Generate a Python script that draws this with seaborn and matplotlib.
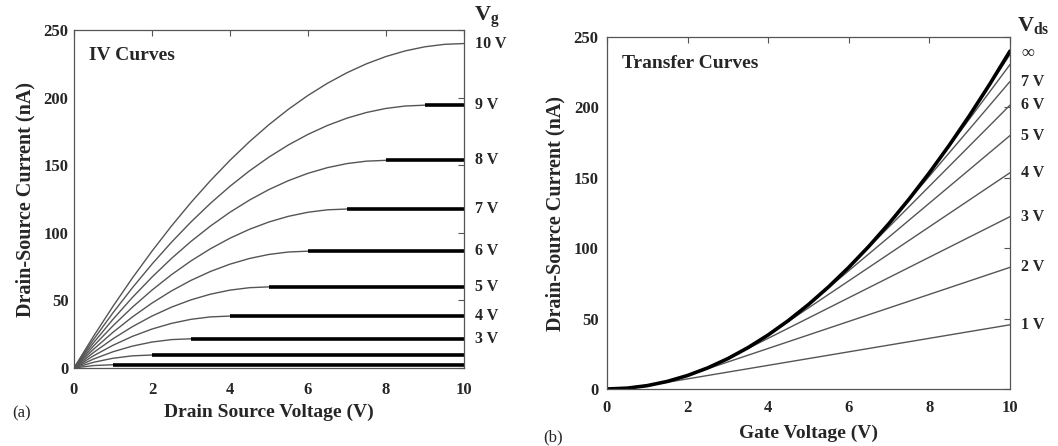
import numpy as np
import pandas as pd
import seaborn as sns
from matplotlib import pyplot as plt

# Drain source voltage grid (V) used for the IV curves
vds_grid = [0, 0.5, 1, 1.5, 2, 2.5, 3, 3.5, 4, 4.5, 5, 5.5, 6, 6.5, 7, 7.5, 8, 8.5, 9, 9.5, 10]

# IV curves (nA), one list per gate voltage, up to saturation (Vds = Vg)
iv_curves = {
    10: [0, 23.4, 45.6, 66.6, 86.4, 105, 122.4, 138.6, 153.6, 167.4, 180, 191.4, 201.6, 210.6, 218.4, 225, 230.4, 234.6, 237.6, 239.4, 240],
    9: [0, 21, 40.8, 59.4, 76.8, 93, 108, 121.8, 134.4, 145.8, 156, 165, 172.8, 179.4, 184.8, 189, 192, 193.8, 194.4],
    8: [0, 18.6, 36, 52.2, 67.2, 81, 93.6, 105, 115.2, 124.2, 132, 138.6, 144, 148.2, 151.2, 153, 153.6],
    7: [0, 16.2, 31.2, 45, 57.6, 69, 79.2, 88.2, 96, 102.6, 108, 112.2, 115.2, 117, 117.6],
    6: [0, 13.8, 26.4, 37.8, 48, 57, 64.8, 71.4, 76.8, 81, 84, 85.8, 86.4],
    5: [0, 11.4, 21.6, 30.6, 38.4, 45, 50.4, 54.6, 57.6, 59.4, 60],
    4: [0, 9, 16.8, 23.4, 28.8, 33, 36, 37.8, 38.4],
    3: [0, 6.6, 12, 16.2, 19.2, 21, 21.6],
    2: [0, 4.2, 7.2, 9, 9.6],
    1: [0, 1.8, 2.4],
}
iv_labelled = [3, 4, 5, 6, 7, 8, 9, 10]

# Transfer curves: saturation (Vds = inf) curve over gate voltage
vg_grid = [0, 0.5, 1, 1.5, 2, 2.5, 3, 3.5, 4, 4.5, 5, 5.5, 6, 6.5, 7, 7.5, 8, 8.5, 9, 9.5, 10]
sat_current = [0, 0.6, 2.4, 5.4, 9.6, 15, 21.6, 29.4, 38.4, 48.6, 60, 72.6, 86.4, 101.4, 117.6,
               135, 153.6, 173.4, 194.4, 216.6, 240]
# current at Vg = 10 V for each finite Vds; linear above Vg = Vds
vds_values = [1, 2, 3, 4, 5, 6, 7, 8, 9]
end_current = [45.6, 86.4, 122.4, 153.6, 180, 201.6, 218.4, 230.4, 237.6]
tr_labelled = [1, 2, 3, 4, 5, 6, 7]

sns.set_theme(style='white')
plt.rcParams['font.family'] = ['Liberation Serif', 'DejaVu Serif']
plt.rcParams['font.weight'] = 'bold'
plt.rcParams['mathtext.fontset'] = 'custom'
plt.rcParams['mathtext.rm'] = 'Liberation Serif'
plt.rcParams['mathtext.bf'] = 'Liberation Serif:bold'

thin = dict(color='#555555', linewidth=1.0)
thick = dict(color='black', linewidth=2.6)

fig = plt.figure(figsize=(10.58, 4.46), dpi=100)
ax1 = fig.add_axes([0.0699, 0.1749, 0.3686, 0.7578])
ax2 = fig.add_axes([0.5737, 0.1278, 0.3809, 0.7892])

# ---- (a) IV curves
rows = []
for vg, cur in iv_curves.items():
    for x, y in zip(vds_grid, cur):
        rows.append((vg, x, y, 'rise'))
    rows.append((vg, vds_grid[len(cur) - 1], cur[-1], 'flat'))
    rows.append((vg, vds_grid[-1], cur[-1], 'flat'))
iv_df = pd.DataFrame(rows, columns=['vg', 'vds', 'ids', 'part'])

for vg in iv_curves:
    d = iv_df[iv_df['vg'] == vg]
    sns.lineplot(data=d[d['part'] == 'rise'], x='vds', y='ids', ax=ax1, estimator=None, sort=False, **thin)
    sns.lineplot(data=d[d['part'] == 'flat'], x='vds', y='ids', ax=ax1, estimator=None, sort=False,
                 clip_on=False, solid_capstyle='butt', **thick)

for vg in iv_labelled:
    ax1.annotate(f'{vg} V', xy=(1, iv_curves[vg][-1]), xycoords=('axes fraction', 'data'),
                 xytext=(8, 0), textcoords='offset points', va='center', ha='left', fontsize=11.5, fontweight='bold')
fig.text(474 / 1058, 1 - 17 / 446, r'$\mathbf{V_{g}}$', fontsize=16, ha='left', va='center')
ax1.text(0.038, 0.926, 'IV Curves', transform=ax1.transAxes, fontsize=14, fontweight='bold', va='center')
ax1.set_xlabel('Drain Source Voltage (V)', fontsize=14, fontweight='bold', labelpad=4)
ax1.set_ylabel('Drain-Source Current (nA)', fontsize=14.5, fontweight='bold', labelpad=6)
fig.text(12 / 1058, 1 - 413 / 446, '(a)', fontsize=12, fontweight='normal', va='center')

# ---- (b) Transfer curves
tr_rows = []
for vds, end in zip(vds_values, end_current):
    for x, y in zip(vg_grid, sat_current):
        if x <= vds:
            tr_rows.append((vds, x, y))
    tr_rows.append((vds, vg_grid[-1], end))
tr_df = pd.DataFrame(tr_rows, columns=['vds', 'vg', 'ids'])

for vds in vds_values:
    sns.lineplot(data=tr_df[tr_df['vds'] == vds], x='vg', y='ids', ax=ax2, estimator=None, sort=False, **thin)
sns.lineplot(x=vg_grid, y=sat_current, ax=ax2, estimator=None, **thick)

for vds in tr_labelled:
    ax2.annotate(f'{vds} V', xy=(1, end_current[vds - 1]), xycoords=('axes fraction', 'data'),
                 xytext=(8, 0), textcoords='offset points', va='center', ha='left', fontsize=11.5, fontweight='bold')
ax2.annotate('∞', xy=(1, sat_current[-1] - 2), xycoords=('axes fraction', 'data'),
             xytext=(8, 0), textcoords='offset points', va='center', ha='left', fontsize=13, fontweight='bold')
fig.text(1017 / 1058, 1 - 26 / 446, r'$\mathbf{V_{ds}}$', fontsize=16, ha='left', va='center')
ax2.text(0.037, 0.926, 'Transfer Curves', transform=ax2.transAxes, fontsize=14, fontweight='bold', va='center')
ax2.set_xlabel('Gate Voltage (V)', fontsize=14, fontweight='bold', labelpad=6)
ax2.set_ylabel('Drain-Source Current (nA)', fontsize=14.5, fontweight='bold', labelpad=6)
fig.text(543 / 1058, 1 - 437 / 446, '(b)', fontsize=12, fontweight='normal', va='center')

for ax, xpad, ypad in ((ax1, 10, 4), (ax2, 8, 6)):
    ax.set_xlim(0, 10)
    ax.set_ylim(0, 250)
    ax.set_xticks([0, 2, 4, 6, 8, 10])
    ax.set_yticks([0, 50, 100, 150, 200, 250])
    ax.tick_params(direction='in', length=4, width=0.8, color='#555555', top=True, right=True, labelsize=12)
    ax.tick_params(axis='x', pad=xpad)
    ax.tick_params(axis='y', pad=ypad)
    for lab in ax.get_xticklabels() + ax.get_yticklabels():
        lab.set_fontweight('bold')
    for sp in ax.spines.values():
        sp.set_color('#555555')
        sp.set_linewidth(0.9)

fig.savefig('out.png', dpi=100)
